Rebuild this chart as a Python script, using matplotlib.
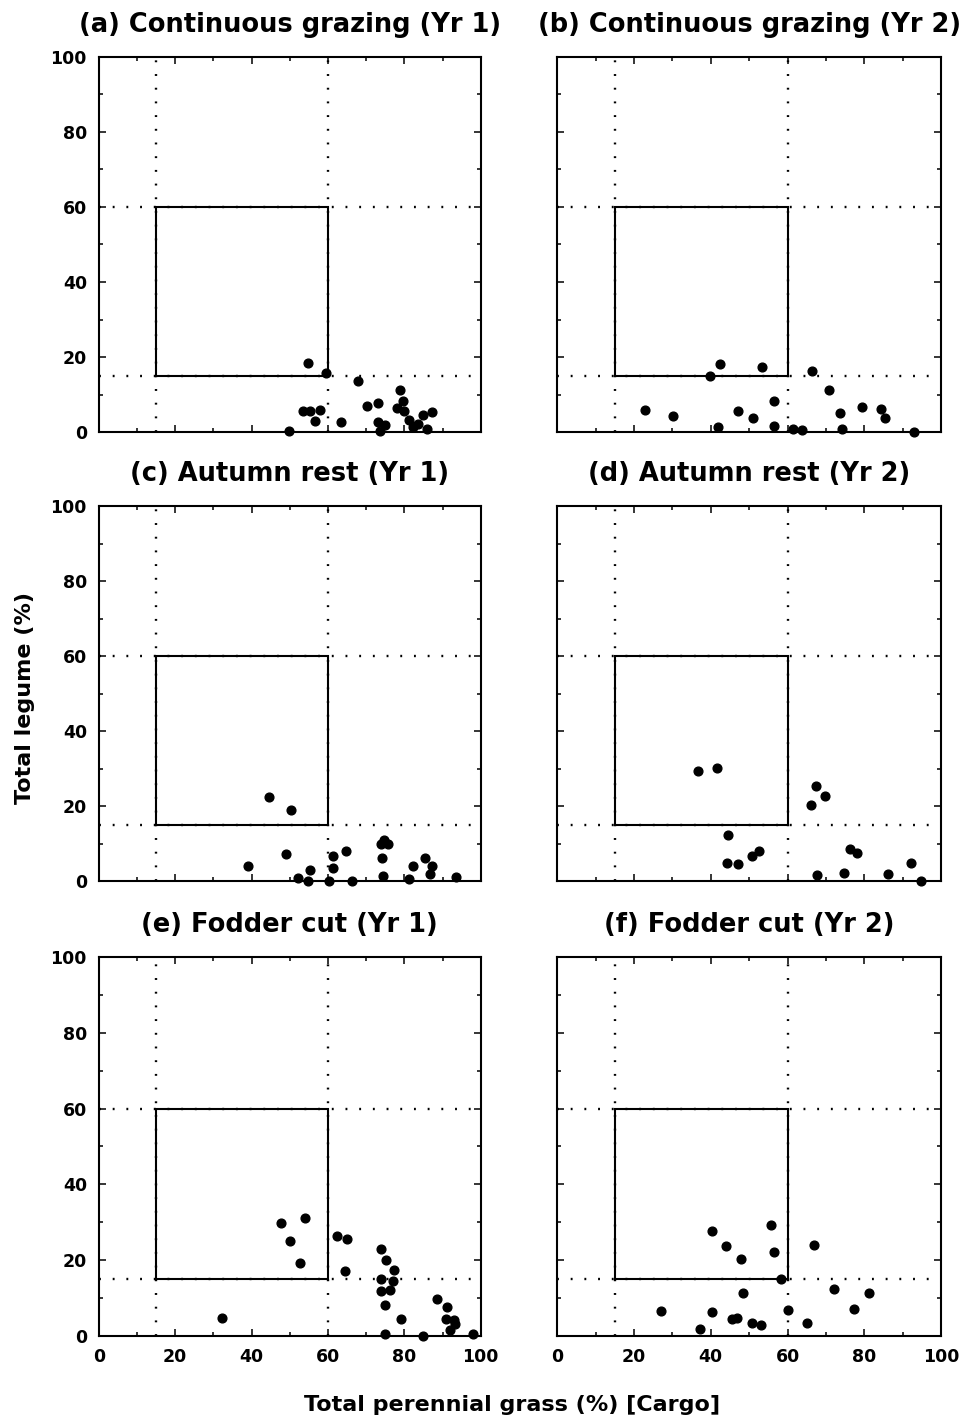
#!/usr/bin/env python

"""
Legume vs perennial grass content for the three grazing treatments, years 1 and 2.
Box marks the target zone (15-60% grass, 15-60% legume).
"""

import matplotlib
matplotlib.use('Agg')
import matplotlib.pyplot as plt
from matplotlib.patches import Rectangle
from matplotlib.ticker import MultipleLocator

plt.rcParams.update({'font.family': 'DejaVu Sans', 'font.weight': 'bold'})

# (a) continuous grazing yr 1
grass_a = [54.7, 59.5, 67.8, 78.9, 79.7, 73.2, 70.2, 78.0, 80.0, 87.3, 84.8, 53.6, 55.3, 57.8, 56.7, 63.4,
           81.2, 83.5, 73.2, 75.0, 73.6, 82.4, 86.0, 49.7]
legume_a = [18.4, 15.7, 13.7, 11.3, 8.3, 7.9, 7.0, 6.4, 5.6, 5.4, 4.5, 5.8, 5.6, 5.9, 3.1, 2.7,
            3.3, 2.1, 2.7, 1.9, 0.3, 1.3, 0.8, 0.3]

# (b) continuous grazing yr 2
grass_b = [42.4, 53.4, 39.9, 66.4, 70.9, 22.9, 30.1, 47.1, 51.0, 56.4, 41.8, 56.4, 63.8, 61.5, 73.6, 74.2,
           79.3, 84.4, 85.3, 93.0]
legume_b = [18.2, 17.5, 15.1, 16.3, 11.3, 5.9, 4.3, 5.7, 3.9, 8.3, 1.3, 1.6, 0.6, 1.0, 5.2, 0.8,
            6.8, 6.1, 3.7, 0.0]

# (c) autumn rest yr 1
grass_c = [44.7, 50.3, 74.8, 73.8, 75.8, 64.8, 49.0, 61.3, 74.2, 85.3, 39.0, 82.3, 87.3, 55.2, 61.3, 86.8,
           74.4, 93.5, 52.2, 81.1, 54.9, 60.2, 66.2]
legume_c = [22.4, 19.0, 11.0, 9.9, 9.9, 8.1, 7.2, 6.6, 6.1, 6.3, 4.0, 4.0, 4.2, 3.1, 3.5, 2.0,
            1.4, 1.2, 0.8, 0.6, 0.0, 0.0, 0.0]

# (d) autumn rest yr 2
grass_d = [36.6, 41.6, 67.3, 69.7, 66.0, 44.5, 76.3, 78.0, 52.5, 50.8, 44.1, 47.1, 92.3, 67.7, 74.6, 86.1, 94.8]
legume_d = [29.4, 30.1, 25.4, 22.8, 20.3, 12.3, 8.5, 7.5, 8.1, 6.8, 4.9, 4.5, 5.0, 1.8, 2.2, 1.9, 0.0]

# (e) fodder cut yr 1
grass_e = [54.1, 47.6, 50.2, 52.7, 62.4, 64.9, 64.4, 73.9, 75.1, 77.3, 73.9, 77.0, 76.2, 73.9, 74.9, 79.1,
           32.4, 88.5, 91.1, 91.0, 92.9, 93.2, 91.9, 75.0, 84.9, 98.0]
legume_e = [31.1, 29.9, 25.0, 19.2, 26.3, 25.5, 17.1, 22.9, 20.0, 17.3, 14.9, 14.5, 12.2, 11.9, 8.0, 4.4,
            4.6, 9.8, 7.7, 4.3, 4.2, 3.1, 1.4, 0.5, 0.0, 0.5]

# (f) fodder cut yr 2
grass_f = [55.6, 40.4, 43.9, 56.4, 47.8, 66.8, 58.4, 72.2, 81.2, 48.4, 26.9, 40.4, 60.0, 77.3, 45.4, 46.8,
           50.8, 53.0, 65.2, 37.1]
legume_f = [29.3, 27.7, 23.7, 22.2, 20.3, 24.1, 14.9, 12.3, 11.4, 11.2, 6.6, 6.3, 6.8, 7.0, 4.4, 4.7,
            3.4, 2.9, 3.5, 1.9]

titles = ['(a) Continuous grazing (Yr 1)', '(b) Continuous grazing (Yr 2)',
          '(c) Autumn rest (Yr 1)', '(d) Autumn rest (Yr 2)',
          '(e) Fodder cut (Yr 1)', '(f) Fodder cut (Yr 2)']

target_lo = 15
target_hi = 60


def format_axis(ax, show_x, show_y):
    ax.set_xlim(0, 100)
    ax.set_ylim(0, 100)
    ax.xaxis.set_major_locator(MultipleLocator(20))
    ax.xaxis.set_minor_locator(MultipleLocator(10))
    ax.yaxis.set_major_locator(MultipleLocator(20))
    ax.yaxis.set_minor_locator(MultipleLocator(10))
    ax.tick_params(which='both', direction='in', top=True, right=True, width=1.1,
                   labelsize=12.5, pad=8.5, labelbottom=show_x, labelleft=show_y)
    ax.tick_params(which='major', length=5)
    ax.tick_params(which='minor', length=3)
    for s in ax.spines.values():
        s.set_linewidth(1.5)


def main():
    fig = plt.figure(figsize=(9.62, 14.23), dpi=100)

    lefts = [0.1026, 0.5793]
    widths = [0.3971, 0.3989]
    bottoms = [0.6962, 0.3807, 0.0613]
    heights = [0.2640, 0.2637, 0.2661]

    data = [(grass_a, legume_a), (grass_b, legume_b),
            (grass_c, legume_c), (grass_d, legume_d),
            (grass_e, legume_e), (grass_f, legume_f)]

    dots = (0, (0.8, 5))
    for i, (gx, ly) in enumerate(data):
        row, col = divmod(i, 2)
        ax = fig.add_axes([lefts[col], bottoms[row], widths[col], heights[row]])
        format_axis(ax, row == 2, col == 0)

        # dotted guide lines at the target limits
        for v in [target_lo, target_hi]:
            ax.axvline(v, color='k', lw=1.7, linestyle=dots)
            ax.axhline(v, color='k', lw=1.7, linestyle=dots)
        ax.add_patch(Rectangle((target_lo, target_lo), target_hi - target_lo, target_hi - target_lo,
                               fill=False, edgecolor='k', lw=1.5, zorder=3))

        ax.plot(gx, ly, 'o', color='k', ms=6.3, clip_on=False, zorder=4)
        ax.set_title(titles[i], fontsize=18.5, fontweight='bold', pad=18)

    fig.text(25 / 962, 1 - 698 / 1423, 'Total legume (%)', rotation=90, ha='center', va='center',
             fontsize=16, fontweight='bold')
    fig.text(512 / 962, 1 - 1405 / 1423, 'Total perennial grass (%) [Cargo]', ha='center', va='center',
             fontsize=16, fontweight='bold')

    fig.savefig('out.png', dpi=100)
    plt.close(fig)


if __name__ == '__main__':
    main()
